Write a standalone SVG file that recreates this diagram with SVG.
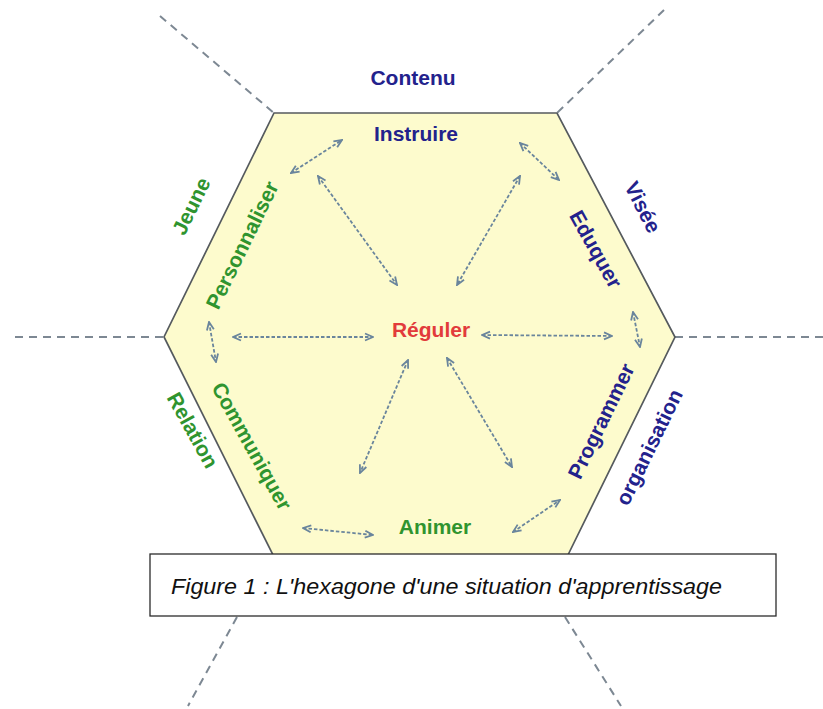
<svg xmlns="http://www.w3.org/2000/svg" width="823" height="709" viewBox="0 0 823 709">
  <defs>
    <marker id="ah" viewBox="0 0 10 10" refX="9" refY="5" markerWidth="10" markerHeight="10" markerUnits="userSpaceOnUse" orient="auto-start-reverse">
      <path d="M1,1.5 L9,5 L1,8.5" fill="none" stroke="#6a859c" stroke-width="1.8"/>
    </marker>
  </defs>
  <style>
    .lbl { font-family: "Liberation Sans", Arial, sans-serif; font-weight: bold; font-size: 21px; text-anchor: middle; }
    .rot { dominant-baseline: central; }
    .blue { fill: #23228c; }
    .green { fill: #2f942f; }
    .red { fill: #e23b3b; }
    .axis { stroke: #7d8893; stroke-width: 2; stroke-dasharray: 8 6; fill: none; }
    .link { stroke: #6a859c; stroke-width: 1.8; stroke-dasharray: 3.5 2; fill: none; marker-start: url(#ah); marker-end: url(#ah); }
  </style>

  <rect width="823" height="709" fill="#ffffff"/>

  <!-- outer axes -->
  <g id="axes">
    <line class="axis" x1="160" y1="16" x2="274" y2="113"/>
    <line class="axis" x1="664" y1="10" x2="557" y2="113"/>
    <line class="axis" x1="15" y1="337" x2="164" y2="337"/>
    <line class="axis" x1="675" y1="337" x2="823" y2="337"/>
    <line class="axis" x1="237" y1="617" x2="188" y2="706"/>
    <line class="axis" x1="565" y1="617" x2="621" y2="706"/>
  </g>

  <!-- hexagon -->
  <g id="hexagon">
    <polygon points="274,113 557,113 675,337 565,561 276,561 164,337" fill="#fdfbcd" stroke="#555a5e" stroke-width="1.7"/>
  </g>

  <!-- double-headed links -->
  <g id="connectors">
    <line class="link" x1="291" y1="173" x2="342" y2="140"/>
    <line class="link" x1="318" y1="176" x2="397" y2="285"/>
    <line class="link" x1="520" y1="143" x2="559" y2="180"/>
    <line class="link" x1="520" y1="176" x2="457" y2="285"/>
    <line class="link" x1="233" y1="337" x2="373" y2="337"/>
    <line class="link" x1="482" y1="335" x2="612" y2="336"/>
    <line class="link" x1="209" y1="322" x2="216" y2="362"/>
    <line class="link" x1="633" y1="312" x2="640" y2="347"/>
    <line class="link" x1="408" y1="360" x2="360" y2="473"/>
    <line class="link" x1="447" y1="358" x2="512" y2="467"/>
    <line class="link" x1="303" y1="528" x2="373" y2="535"/>
    <line class="link" x1="513" y1="532" x2="560" y2="500"/>
  </g>

  <!-- labels -->
  <g id="contenu"><text class="lbl blue" x="413" y="85">Contenu</text></g>
  <g id="instruire"><text class="lbl blue" x="416" y="141">Instruire</text></g>
  <g id="reguler"><text class="lbl red" x="431" y="337">Réguler</text></g>
  <g id="animer"><text class="lbl green" x="435" y="534">Animer</text></g>

  <g id="jeune" transform="translate(191,206) rotate(-64)"><text class="lbl rot green" x="0" y="0">Jeune</text></g>
  <g id="personnaliser" transform="translate(242,245) rotate(-64)"><text class="lbl rot green" x="0" y="0">Personnaliser</text></g>
  <g id="relation" transform="translate(193,430) rotate(61)"><text class="lbl rot green" x="0" y="0">Relation</text></g>
  <g id="communiquer" transform="translate(252,446) rotate(61)"><text class="lbl rot green" x="0" y="0">Communiquer</text></g>

  <g id="visee" transform="translate(643,207) rotate(63)"><text class="lbl rot blue" x="0" y="0">Visée</text></g>
  <g id="eduquer" transform="translate(596,249) rotate(61)"><text class="lbl rot blue" x="0" y="0">Eduquer</text></g>
  <g id="programmer" transform="translate(601,421) rotate(-64)"><text class="lbl rot blue" x="0" y="0">Programmer</text></g>
  <g id="organisation" transform="translate(649,447) rotate(-64)"><text class="lbl rot blue" x="0" y="0">organisation</text></g>

  <!-- caption -->
  <g id="caption">
    <rect x="150" y="554" width="626" height="62" fill="#ffffff" stroke="#2b2b2b" stroke-width="1.3"/>
    <text x="171" y="594" font-family="Liberation Sans, Arial, sans-serif" font-style="italic" font-size="22" fill="#111111" textLength="551" lengthAdjust="spacingAndGlyphs">Figure 1 : L'hexagone d'une situation d'apprentissage</text>
  </g>
</svg>
